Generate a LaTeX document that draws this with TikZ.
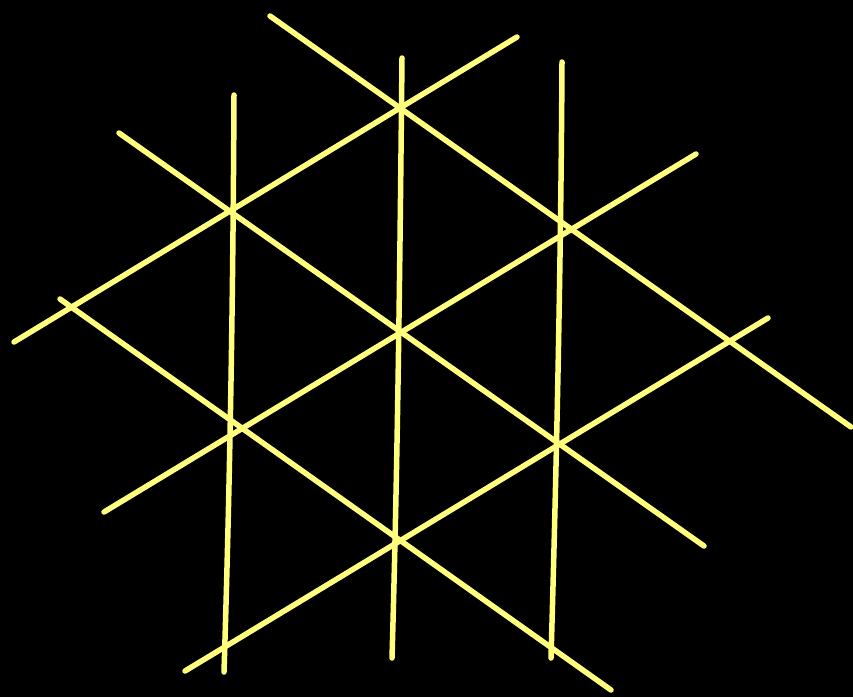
\documentclass[tikz,border=0pt]{standalone}
\definecolor{pen}{RGB}{255,255,125}
\tikzset{stroke/.style={draw=pen,line width=5.5pt,line cap=round,line join=round}}
\begin{document}
\begin{tikzpicture}[x=1pt,y=-1pt]
\fill[black] (0,0) rectangle (853,697);
\useasboundingbox (0,0) rectangle (853,697);
% vertical lines
\draw[stroke] (234,95) .. controls (233,300) and (230,480) .. (224,672);
\draw[stroke] (402,58) .. controls (400,250) and (398,450) .. (392,658);
\draw[stroke] (562,62) .. controls (561,250) and (557,450) .. (551,658);
% rising diagonals
\draw[stroke] (14,342) -- (517,37);
\draw[stroke] (104,512) -- (696,154);
\draw[stroke] (185,671) -- (768,318);
% falling diagonals
\draw[stroke] (270,16) -- (851,427);
\draw[stroke] (119,133) -- (704,546);
\draw[stroke] (60,299) -- (611,690);
\end{tikzpicture}
\end{document}
